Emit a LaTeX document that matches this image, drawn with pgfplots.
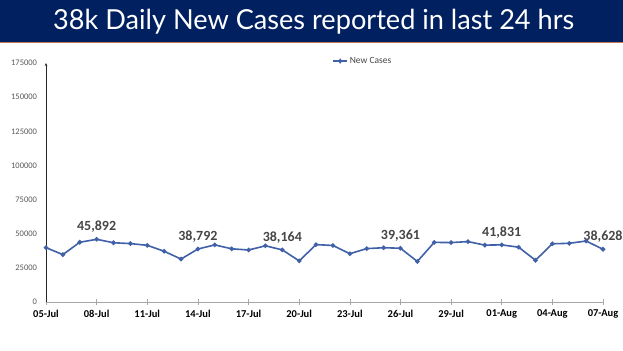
\documentclass[border=0pt]{standalone}
\usepackage{pgfplots}
\pgfplotsset{compat=1.18}
\usepackage{pgfplotstable}
\usetikzlibrary{arrows.meta}
\usepackage{fontspec}
\setmainfont{Carlito}
\newfontfamily\titlefont{Lato}
\definecolor{navy}{RGB}{0,32,96}
\definecolor{linec}{RGB}{64,96,168}
\definecolor{lblc}{RGB}{70,70,70}
\definecolor{tickc}{RGB}{89,89,89}
\definecolor{rule}{RGB}{196,120,90}
\pgfplotstableread{
x y
0 39796
1 34703
2 43733
3 45892
4 43393
5 42766
6 41506
7 37154
8 31443
9 38792
10 41806
11 38949
12 38079
13 41157
14 38164
15 30093
16 42015
17 41383
18 35342
19 39097
20 39742
21 39361
22 29689
23 43654
24 43509
25 44230
26 41649
27 41831
28 40134
29 30549
30 42625
31 42982
32 44643
33 38628
}\cases
\begin{document}
\begin{tikzpicture}
\useasboundingbox (0,0) rectangle (623bp,351bp);
\fill[white] (0,0) rectangle (623bp,351bp);
\fill[navy] (0,309bp) rectangle (623bp,351bp);
\draw[rule, line width=1bp] (0,308.5bp) -- (623bp,308.5bp);
\node[text=white, anchor=base west, inner sep=0pt] at (53bp,321.7bp) {\resizebox{521bp}{20.3bp}{\titlefont 38k Daily New Cases reported in last 24 hrs}};
\begin{axis}[
  at={(46bp,49bp)}, anchor=south west,
  scale only axis, width=557bp, height=239bp,
  xmin=0, xmax=33, ymin=0, ymax=175000,
  enlargelimits=false, clip=false,
  axis x line=bottom, axis y line=left,
  x axis line style={-, draw=gray!70},
  y axis line style={-{Stealth[length=3bp,width=2.5bp]}, draw=black!85, line width=0.8bp},
  xtick={0,3,...,33},
  xticklabels={05-Jul,08-Jul,11-Jul,14-Jul,17-Jul,20-Jul,23-Jul,26-Jul,29-Jul,01-Aug,04-Aug,07-Aug},
  xticklabel style={font=\fontsize{10.5bp}{12bp}\selectfont\bfseries, text=black, yshift=-2bp},
  xtick style={draw=gray!70, line width=0.6bp},
  xtick align=center, major tick length=5bp,
  ytick={0,25000,...,175000},
  yticklabel style={font=\fontsize{8.5bp}{10bp}\selectfont, text=tickc, xshift=-3bp},
  ytick style={draw=none},
  scaled y ticks=false,
  /pgf/number format/assume math mode=true,
  yticklabel={\pgfmathprintnumber[fixed, 1000 sep={}]{\tick}},
  legend style={at={(0.569,1.008)}, anchor=center, draw=none, fill=none,
    font=\fontsize{9.5bp}{11bp}\selectfont, text=lblc, inner sep=0pt},
  legend image post style={xscale=0.8},
]
\addplot[color=linec, line width=1.6bp, mark=*, mark size=1.4bp, mark options={fill=linec, draw=linec}] table[x=x,y=y] {\cases};
\addlegendentry{New Cases}
\begin{scope}[every node/.style={font=\fontsize{14bp}{16bp}\selectfont\bfseries, text=lblc, anchor=center, yshift=12.5bp}]
\node at (axis cs:3,45892) {45,892};
\node at (axis cs:9,38792) {38,792};
\node at (axis cs:14,38164) {38,164};
\node at (axis cs:21,39361) {39,361};
\node at (axis cs:27,41831) {41,831};
\node at (axis cs:33,38628) {38,628};
\end{scope}
\end{axis}
\end{tikzpicture}
\end{document}
